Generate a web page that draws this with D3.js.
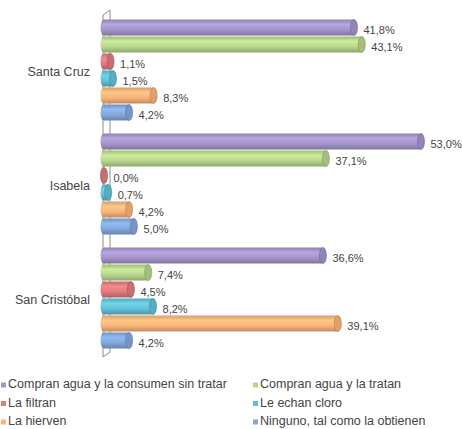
<!DOCTYPE html>
<html>
<head>
<meta charset="utf-8">
<script src="https://cdnjs.cloudflare.com/ajax/libs/d3/7.8.5/d3.min.js"></script>
<style>
  body { margin: 0; background: #fff; }
  text { font-family: "Liberation Sans", Arial, sans-serif; fill: #454545; }
</style>
</head>
<body>
<svg id="chart" width="462" height="429"></svg>
<script>
// islands and treatment categories
var islands = ["Santa Cruz", "Isabela", "San Cristóbal"];
var methods = [
  "Compran agua y la consumen sin tratar",
  "Compran agua y la tratan",
  "La filtran",
  "Le echan cloro",
  "La hierven",
  "Ninguno, tal como la obtienen"
];
var colors = ["#a495ca", "#b7d58c", "#dd7c7e", "#62c0d6", "#f8b479", "#83a7db"];

// percentages, one list per island, same order as methods
var santaCruz = [41.8, 43.1, 1.1, 1.5, 8.3, 4.2];
var isabela = [53.0, 37.1, 0.0, 0.7, 4.2, 5.0];
var sanCristobal = [36.6, 7.4, 4.5, 8.2, 39.1, 4.2];
var values = [santaCruz, isabela, sanCristobal];

var svg = d3.select("#chart");

var x = d3.scaleLinear().domain([0, 53]).range([104, 421]);
var y0 = d3.scaleBand().domain(islands).range([13, 355]).padding(0);
var y1 = d3.scaleBand().domain(d3.range(methods.length))
  .range([5.5, y0.bandwidth() - 5.5]).padding(0.06);

// gradients for the cylinder look
var defs = svg.append("defs");
colors.forEach(function(c, i) {
  var base = d3.color(c);
  var g = defs.append("linearGradient")
    .attr("id", "grad" + i)
    .attr("x1", 0).attr("y1", 0).attr("x2", 0).attr("y2", 1);
  g.append("stop").attr("offset", "0%").attr("stop-color", base.darker(0.4));
  g.append("stop").attr("offset", "30%").attr("stop-color", base.brighter(0.3));
  g.append("stop").attr("offset", "65%").attr("stop-color", base);
  g.append("stop").attr("offset", "100%").attr("stop-color", base.darker(0.7));
});

// 3d wall edge
var wx = x(0) - 1, dx = 7, dy = -5;
svg.append("path")
  .attr("d", "M" + wx + "," + (y0.range()[1] + 2) + "V" + (y0.range()[0] + 2)
    + "l" + dx + "," + dy + "V" + (y0.range()[1] - 3) + "l" + (-dx) + "," + (-dy))
  .attr("fill", "none")
  .attr("stroke", "#8c8c8c")
  .attr("stroke-width", 1);

var rows = [];
islands.forEach(function(isl, gi) {
  values[gi].forEach(function(v, si) {
    rows.push({island: isl, s: si, v: v});
  });
});

var capR = 3.5;
var bars = svg.selectAll("g.bar").data(rows).enter().append("g").attr("class", "bar");

bars.each(function(d) {
  var g = d3.select(this);
  var top = y0(d.island) + y1(d.s);
  var h = y1.bandwidth();
  var x0 = x(0), x1 = x(d.v);
  var base = d3.color(colors[d.s]);
  g.append("ellipse")
    .attr("cx", x0).attr("cy", top + h / 2)
    .attr("rx", capR).attr("ry", h / 2)
    .attr("fill", "url(#grad" + d.s + ")");
  g.append("rect")
    .attr("x", x0).attr("y", top)
    .attr("width", Math.max(0, x1 - x0)).attr("height", h)
    .attr("fill", "url(#grad" + d.s + ")");
  g.append("ellipse")
    .attr("cx", x1).attr("cy", top + h / 2)
    .attr("rx", capR).attr("ry", h / 2)
    .attr("fill", base.darker(0.3))
    .attr("stroke", base.darker(1))
    .attr("stroke-width", 0.6);
  g.append("text")
    .attr("x", x1 + capR + 6)
    .attr("y", top + h / 2 + 4)
    .attr("dominant-baseline", "middle")
    .attr("font-size", "11px")
    .text(d.v.toFixed(1).replace(".", ",") + "%");
});

// island labels
svg.selectAll("text.cat").data(islands).enter().append("text")
  .attr("class", "cat")
  .attr("x", 90)
  .attr("y", function(d) { return y0(d) + y0.bandwidth() / 2 + 3; })
  .attr("text-anchor", "end")
  .attr("dominant-baseline", "middle")
  .attr("font-size", "12.5px")
  .text(function(d) { return d; });

// legend, two columns
var legend = svg.selectAll("g.leg").data(methods).enter().append("g")
  .attr("class", "leg")
  .attr("transform", function(d, i) {
    var col = i % 2, row = Math.floor(i / 2);
    return "translate(" + (col === 0 ? 1 : 253) + "," + (385 + row * 18.5) + ")";
  });
legend.append("rect")
  .attr("x", 0).attr("y", -2.5).attr("width", 5).attr("height", 5)
  .attr("fill", function(d, i) { return colors[i]; });
legend.append("text")
  .attr("x", 7).attr("y", 0)
  .attr("dominant-baseline", "middle")
  .attr("font-size", "12.5px")
  .text(function(d) { return d; });
</script>
</body>
</html>
